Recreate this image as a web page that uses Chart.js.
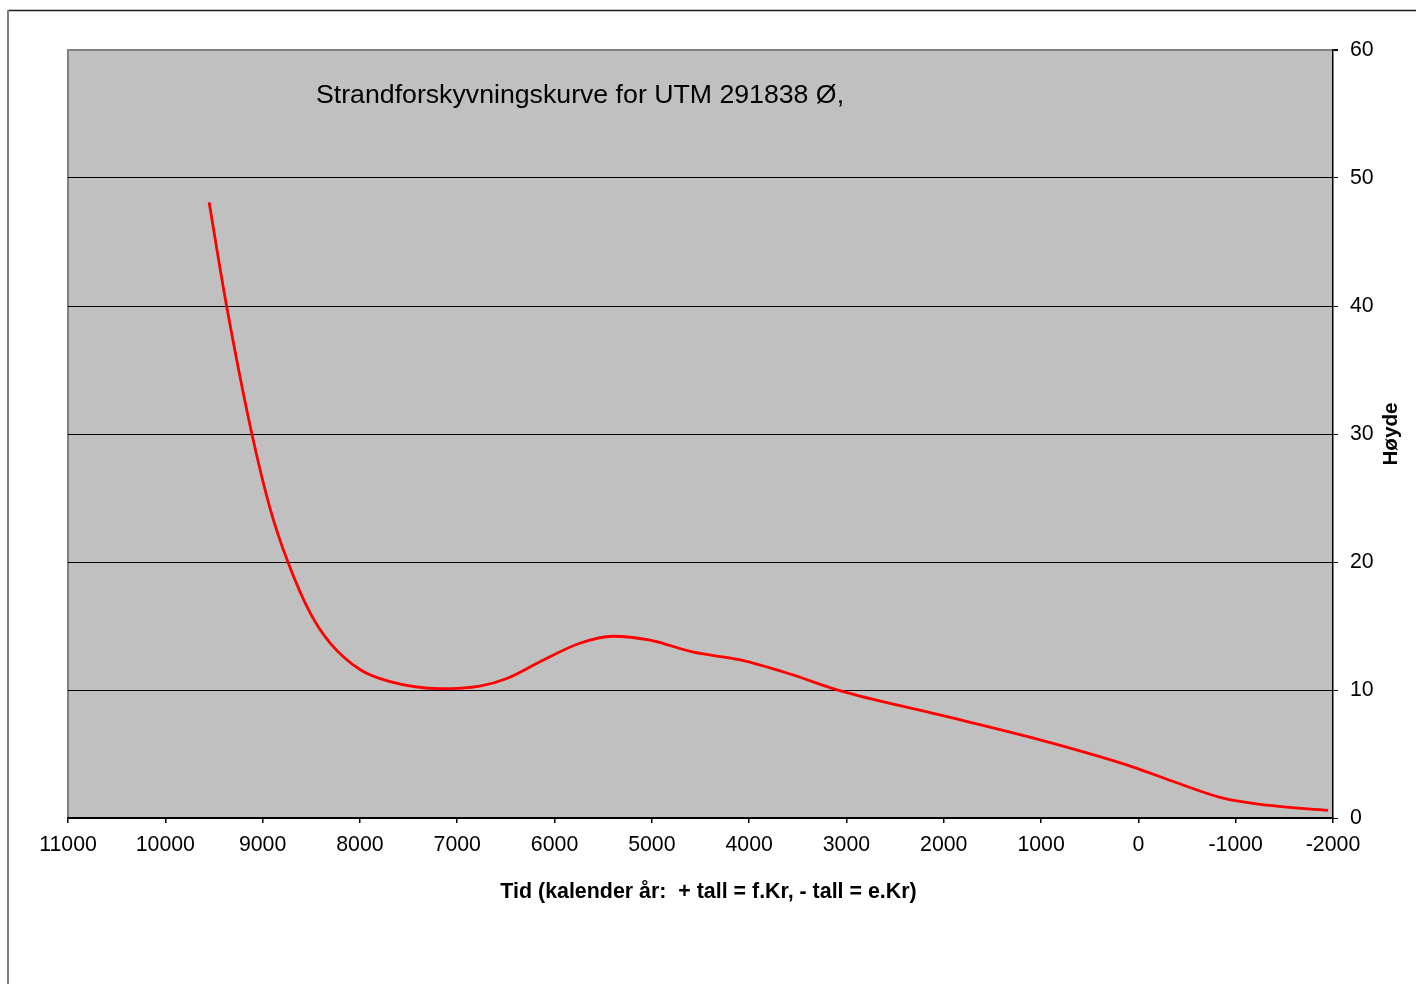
<!DOCTYPE html>
<html>
<head>
<meta charset="utf-8">
<script src="https://cdn.jsdelivr.net/npm/chart.js@4/dist/chart.umd.min.js"></script>
<style>
html,body{margin:0;padding:0;background:#fff;overflow:hidden;}
#c{display:block;}
</style>
</head>
<body>
<canvas id="c" width="1416" height="984"></canvas>
<script>
// ---- data ----
const years   = [9550, 9370, 9110, 8920, 8740, 8510, 8310, 8000, 7690, 7180, 6770, 6490, 6150, 5740, 5400, 5020, 4570, 4090, 3580, 3070, 2040, 1010, 60, -360, -870, -1320, -1950];
const heights = [48.1, 40.0, 30.0, 24.1, 20.0, 16.0, 13.7, 11.6, 10.65, 10.1, 10.3, 10.9, 12.2, 13.65, 14.2, 13.9, 12.95, 12.35, 11.25, 9.95, 8.05, 6.1, 4.0, 2.85, 1.55, 1.0, 0.6];
const xTickValues = [11000, 10000, 9000, 8000, 7000, 6000, 5000, 4000, 3000, 2000, 1000, 0, -1000, -2000];
const yTickValues = [0, 10, 20, 30, 40, 50, 60];
const chartTitle = 'Strandforskyvningskurve for UTM 291838 Ø,';
const xTitle = 'Tid (kalender år:  + tall = f.Kr, - tall = e.Kr)';
const yTitle = 'Høyde';

const FONT = '"Liberation Sans", Arial, sans-serif';

const decor = {
  id: 'decor',
  beforeDraw(chart) {
    const ctx = chart.ctx, a = chart.chartArea;
    ctx.save();
    ctx.fillStyle = '#ffffff';
    ctx.fillRect(0, 0, chart.width, chart.height);
    // outer frame
    ctx.strokeStyle = '#1a1a1a';
    ctx.lineWidth = 1.5;
    ctx.beginPath(); ctx.moveTo(8, 10.5); ctx.lineTo(chart.width, 10.5); ctx.stroke();
    ctx.strokeStyle = '#808080';
    ctx.lineWidth = 2;
    ctx.beginPath(); ctx.moveTo(8, 10); ctx.lineTo(8, chart.height); ctx.stroke();
    // plot background
    ctx.fillStyle = '#c0c0c0';
    ctx.fillRect(a.left, a.top, a.right - a.left, a.bottom - a.top);
    ctx.strokeStyle = '#808080';
    ctx.lineWidth = 2;
    ctx.beginPath(); ctx.moveTo(a.left, a.bottom); ctx.lineTo(a.left, a.top); ctx.lineTo(a.right, a.top); ctx.stroke();
    ctx.restore();
  },
  afterDraw(chart) {
    const ctx = chart.ctx, a = chart.chartArea;
    ctx.save();
    ctx.fillStyle = '#000';
    ctx.textBaseline = 'middle';
    ctx.textAlign = 'left';
    ctx.font = '26.7px ' + FONT;
    ctx.fillText(chartTitle, a.left + 248, 96);
    ctx.textAlign = 'center';
    ctx.font = 'bold 21.4px ' + FONT;
    ctx.fillText(xTitle, 708.5, 892);
    ctx.font = 'bold 20.7px ' + FONT;
    ctx.translate(1391, 434);
    ctx.rotate(-Math.PI / 2);
    ctx.fillText(yTitle, 0, 0);
    ctx.restore();
  }
};

new Chart(document.getElementById('c'), {
  type: 'line',
  data: {
    datasets: [{
      data: years.map((x, i) => ({x: x, y: heights[i]})),
      borderColor: '#ff0000',
      borderWidth: 2.8,
      pointRadius: 0,
      fill: false,
      cubicInterpolationMode: 'monotone'
    }]
  },
  options: {
    responsive: false,
    devicePixelRatio: 1,
    animation: false,
    layout: { padding: { left: 68, top: 50, right: 0, bottom: 0 } },
    plugins: { legend: { display: false }, title: { display: false }, tooltip: { enabled: false } },
    scales: {
      x: {
        type: 'linear',
        reverse: true,
        min: -2000,
        max: 11000,
        afterBuildTicks: s => { s.ticks = xTickValues.map(v => ({value: v})); },
        afterFit: s => { s.height = 166; },
        ticks: {
          autoSkip: false,
          maxRotation: 0,
          color: '#000',
          font: { family: FONT, size: 21.3 },
          padding: 9,
          callback: v => String(v)
        },
        grid: { drawOnChartArea: false, drawTicks: true, tickLength: 5, tickColor: '#000', lineWidth: 1.5 },
        border: { display: true, color: '#000', width: 1.5 }
      },
      y: {
        position: 'right',
        min: 0,
        max: 60,
        afterBuildTicks: s => { s.ticks = yTickValues.map(v => ({value: v})); },
        afterFit: s => { s.width = 83; },
        ticks: {
          color: '#000',
          font: { family: FONT, size: 21.3 },
          padding: 12,
          callback: v => String(v)
        },
        grid: {
          drawOnChartArea: true,
          drawTicks: true,
          tickLength: 5,
          tickColor: '#000',
          color: c => (c.tick && c.tick.value === 60) ? '#808080' : '#000',
          lineWidth: c => (c.tick && c.tick.value === 60) ? 2 : 1
        },
        border: { display: true, color: '#000', width: 1.5 }
      }
    }
  },
  plugins: [decor]
});
</script>
</body>
</html>
